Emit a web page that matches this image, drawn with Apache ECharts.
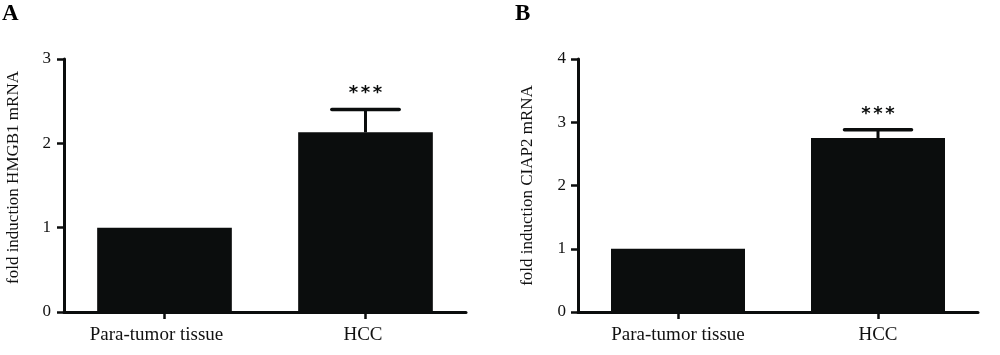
<!DOCTYPE html>
<html>
<head>
<meta charset="utf-8">
<script src="https://cdn.jsdelivr.net/npm/echarts@6/dist/echarts.min.js"></script>
<style>html,body{margin:0;padding:0;background:#fff}#c{width:1000px;height:355px}</style>
</head>
<body>
<div id="c"></div>
<script>
var categories = ['Para-tumor tissue', 'HCC'];
var valuesA = [1.0, 2.13];
var errorsA = [0, 0.27];
var valuesB = [1.0, 2.75];
var errorsB = [0, 0.13];
var significance = ['', '***'];
var yTicksA = [0, 1, 2, 3];
var yTicksB = [0, 1, 2, 3, 4];
var panelLabels = ['A', 'B'];
var yTitles = ['fold induction HMGB1 mRNA', 'fold induction CIAP2 mRNA'];

var FONT = 'Liberation Serif';
var INK = '#0b0d0d';

function errData(vals, errs) {
  return vals.map(function (v, i) { return [i, v, errs[i]]; });
}

function renderErr(params, api) {
  var x = api.value(0), m = api.value(1), e = api.value(2);
  var sig = significance[params.dataIndex];
  var children = [];
  var bw = api.size([1, 0])[0] * 0.67;
  var top = api.coord([x, m + e]);
  var base = api.coord([x, m]);
  if (e > 0) {
    children.push({ type: 'line', shape: { x1: top[0], y1: base[1], x2: top[0], y2: top[1] }, style: { stroke: INK, lineWidth: 3 } });
    children.push({ type: 'line', shape: { x1: top[0] - bw / 4, y1: top[1], x2: top[0] + bw / 4, y2: top[1] }, style: { stroke: INK, lineWidth: 3.5, lineCap: 'round' } });
  }
  if (sig) {
    var n = sig.length;
    for (var k = 0; k < n; k++) {
      children.push({ type: 'text', style: { text: sig.charAt(k), x: top[0] + (k - (n - 1) / 2) * 12, y: top[1] - 7, align: 'center', verticalAlign: 'bottom', font: 'bold 18px "DejaVu Sans"', fill: INK } });
    }
  }
  return { type: 'group', children: children };
}

function yAxis(gi, ticks, title, gap, labelMargin, namePad) {
  return {
    gridIndex: gi, type: 'value', min: ticks[0], max: ticks[ticks.length - 1], interval: 1,
    name: title, nameLocation: 'middle', nameGap: gap, nameRotate: 90,
    nameTextStyle: { fontFamily: FONT, fontSize: 17, color: '#111', padding: namePad },
    axisLine: { show: true, lineStyle: { color: INK, width: 3 } },
    axisTick: { show: true, length: 7, lineStyle: { color: INK, width: 2.5 } },
    axisLabel: { fontFamily: FONT, fontSize: 17, color: '#111', margin: labelMargin },
    splitLine: { show: false }
  };
}

function xAxis(gi, pads) {
  var rich = {};
  pads.forEach(function (p, i) {
    rich['p' + i] = { fontFamily: FONT, fontSize: 19, color: '#111', padding: [0, p, 0, 0] };
  });
  return {
    gridIndex: gi, type: 'category', data: categories,
    axisLine: { show: true, lineStyle: { color: INK, width: 3 } },
    axisTick: { show: true, alignWithLabel: true, interval: 0, length: 7, lineStyle: { color: INK, width: 2.5 } },
    axisLabel: {
      interval: 0, hideOverlap: false,
      fontFamily: FONT, fontSize: 19, color: '#111', margin: 14,
      formatter: function (v, i) { return '{p' + i + '|' + v + '}'; },
      rich: rich
    }
  };
}

var chart = echarts.init(document.getElementById('c'));
chart.setOption({
  animation: false,
  backgroundColor: '#fff',
  title: [
    { text: panelLabels[0], left: 2, top: 3, padding: 0, textStyle: { fontFamily: FONT, fontWeight: 'bold', fontSize: 23, color: '#000' } },
    { text: panelLabels[1], left: 515, top: 3, padding: 0, textStyle: { fontFamily: FONT, fontWeight: 'bold', fontSize: 23, color: '#000' } }
  ],
  grid: [
    { left: 64, right: 534, top: 59, bottom: 43, outerBoundsMode: 'none', containLabel: false },
    { left: 578, right: 22, top: 59, bottom: 43, outerBoundsMode: 'none', containLabel: false }
  ],
  xAxis: [xAxis(0, [16, 5]), xAxis(1, [0, 0])],
  yAxis: [yAxis(0, yTicksA, yTitles[0], 42, 13, [0, 0, 0, 16]), yAxis(1, yTicksB, yTitles[1], 42, 12, 0)],
  series: [
    { type: 'bar', xAxisIndex: 0, yAxisIndex: 0, data: valuesA, barWidth: '67%', itemStyle: { color: INK } },
    { type: 'custom', xAxisIndex: 0, yAxisIndex: 0, data: errData(valuesA, errorsA), renderItem: renderErr, z: 5 },
    { type: 'bar', xAxisIndex: 1, yAxisIndex: 1, data: valuesB, barWidth: '67%', itemStyle: { color: INK } },
    { type: 'custom', xAxisIndex: 1, yAxisIndex: 1, data: errData(valuesB, errorsB), renderItem: renderErr, z: 5 }
  ]
});
</script>
</body>
</html>
